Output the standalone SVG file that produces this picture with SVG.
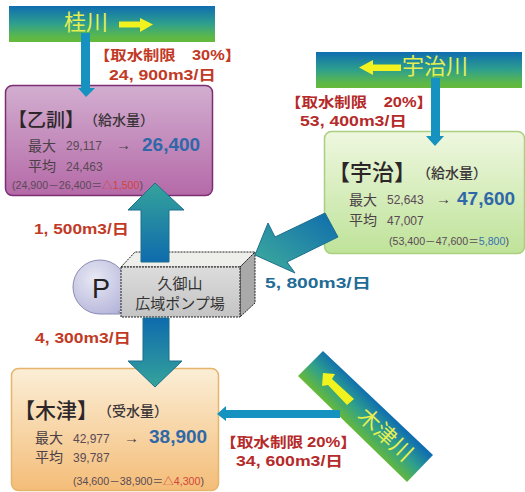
<svg xmlns="http://www.w3.org/2000/svg" width="525" height="492" viewBox="0 0 525 492">
<style>
text{font-family:"Noto Sans CJK JP","Liberation Sans",sans-serif;fill:#3a3438}
.red{font-size:14px;font-weight:700}
.r1{fill:#c23a26}
.r2{fill:#b52a2a}
.flow{font-family:"Liberation Sans","Noto Sans CJK JP",sans-serif}
.riv{fill:#e6ee50;font-size:22px}
.title{fill:#2c2628;font-size:19px;font-weight:500}
.t22{font-size:22px}
.t21{font-size:21px}
.sub{fill:#3a3438;font-size:14px;font-weight:500}
.lab{fill:#4a4046;font-size:14px}
.num{font-family:"Liberation Sans",sans-serif;fill:#5a4a55;font-size:12px}
.ar{font-family:"Liberation Sans",sans-serif;fill:#4a4046;font-size:15px}
.big{font-family:"Liberation Sans",sans-serif;fill:#2f68a8;font-size:19px;font-weight:700}
.calc{font-family:"Liberation Sans","Noto Sans CJK JP",sans-serif;fill:#5a4a55;font-size:10px}
.arr{stroke:#1d6f8c;stroke-width:1}
.pump{fill:#333;font-size:15px;text-anchor:middle}
</style>
<defs>
<linearGradient id="river" x1="0" y1="0" x2="0" y2="1"><stop offset="0" stop-color="#0f6db0"/><stop offset=".5" stop-color="#2fa08c"/><stop offset=".85" stop-color="#5cb84a"/><stop offset="1" stop-color="#66b93a"/></linearGradient>
<linearGradient id="riverd" gradientUnits="userSpaceOnUse" x1="378" y1="403" x2="352" y2="429"><stop offset="0" stop-color="#0f6db0"/><stop offset=".5" stop-color="#2fa08c"/><stop offset="1" stop-color="#66b93a"/></linearGradient>
<linearGradient id="up" x1="0" y1="0" x2="0" y2="1"><stop offset="0" stop-color="#35a39b"/><stop offset="1" stop-color="#0f6bad"/></linearGradient>
<linearGradient id="down" x1="0" y1="0" x2="0" y2="1"><stop offset="0" stop-color="#0f6bad"/><stop offset="1" stop-color="#35a39b"/></linearGradient>
<linearGradient id="diag" x1="1" y1="0" x2="0" y2="1"><stop offset="0" stop-color="#0f6bad"/><stop offset="1" stop-color="#3fae9b"/></linearGradient>
<linearGradient id="purple" x1="0" y1="0" x2="0" y2="1"><stop offset="0" stop-color="#d2aed0"/><stop offset="1" stop-color="#b56aa8"/></linearGradient>
<linearGradient id="green" x1="0" y1="0" x2="0" y2="1"><stop offset="0" stop-color="#eef7df"/><stop offset="1" stop-color="#bfe39a"/></linearGradient>
<linearGradient id="orange" x1="0" y1="0" x2="0" y2="1"><stop offset="0" stop-color="#fbeed6"/><stop offset="1" stop-color="#f4bd78"/></linearGradient>
<linearGradient id="gray" x1="0" y1="0" x2="0" y2="1"><stop offset="0" stop-color="#dcdcdc"/><stop offset="1" stop-color="#c4c4c4"/></linearGradient>
<radialGradient id="pball" cx=".4" cy=".35" r=".75"><stop offset="0" stop-color="#e8e8f4"/><stop offset="1" stop-color="#b4b4da"/></radialGradient>
</defs>
<rect width="525" height="492" fill="#fff"/>

<g id="river-katsura">
<rect x="9" y="6" width="206" height="36" fill="url(#river)"/>
<text class="riv" x="64" y="30">桂川</text>
<path d="M119 21.500H140V18L153 24.500L140 32V27.500H119Z" fill="#f2f21e"/>
</g>
<g id="river-uji">
<rect x="316" y="52" width="206" height="36" fill="url(#river)"/>
<text class="riv" x="402" y="74">宇治川</text>
<path d="M401 64.500H373V60L359 67.500L373 75V71H401Z" fill="#f2f21e"/>
</g>
<g id="river-kizu">
<polygon points="323,351 433,455 407,482 298,376" fill="url(#riverd)"/>
<polygon points="354,399 347,405 328,385 322,386 323,373 335,374 332,379" fill="#f2f21e"/>
<text class="riv" text-anchor="middle" transform="translate(385,435) rotate(43)" x="0" y="7">木津川</text>
</g>

<g id="node-otokuni">
<rect x="5.500" y="85.500" width="207" height="110" rx="7" fill="url(#purple)" stroke="#7b2f72" stroke-width="1.500"/>
<text class="title" x="8" y="127">【乙訓】</text>
<text class="sub" x="84" y="125">（給水量）</text>
<text class="lab" x="28" y="151">最大</text>
<text class="num" x="66" y="150">29,117</text>
<text class="ar" x="116" y="150">→</text>
<text class="big" x="142" y="151">26,400</text>
<text class="lab" x="28" y="171">平均</text>
<text class="num" x="66" y="171">24,463</text>
<text class="calc" x="12" y="189" textLength="131" lengthAdjust="spacingAndGlyphs">(24,900－26,400＝<tspan fill="#d2443a">△1,500</tspan>)</text>
</g>
<g id="node-uji">
<rect x="324.500" y="131.500" width="200" height="122" rx="7" fill="url(#green)" stroke="#a9cf7f" stroke-width="1.500"/>
<text class="title t22" x="328" y="180">【宇治】</text>
<text class="sub" x="417" y="178">（給水量）</text>
<text class="lab" x="349" y="205">最大</text>
<text class="num" x="387" y="204">52,643</text>
<text class="ar" x="436" y="204">→</text>
<text class="big" x="457" y="205">47,600</text>
<text class="lab" x="349" y="225">平均</text>
<text class="num" x="387" y="225">47,007</text>
<text class="calc" x="389" y="245" textLength="120" lengthAdjust="spacingAndGlyphs">(53,400－47,600＝<tspan fill="#3a70b0">5,800</tspan>)</text>
</g>
<g id="node-kizu">
<rect x="11.500" y="368.500" width="207" height="122" rx="7" fill="url(#orange)" stroke="#e6b56c" stroke-width="1.500"/>
<text class="title t21" x="14" y="418">【木津】</text>
<text class="sub" x="98" y="416">（受水量）</text>
<text class="lab" x="35" y="443">最大</text>
<text class="num" x="73" y="443">42,977</text>
<text class="ar" x="124" y="443">→</text>
<text class="big" x="149" y="443">38,900</text>
<text class="lab" x="35" y="462">平均</text>
<text class="num" x="73" y="462">39,787</text>
<text class="calc" x="73" y="485" textLength="131" lengthAdjust="spacingAndGlyphs">(34,600－38,900＝<tspan fill="#d2443a">△4,300</tspan>)</text>
</g>

<g id="node-pump">
<path d="M100 260A27 27 0 0 1 127 287V307L118 312L127 314H100A27 27 0 0 1 100 260Z" fill="url(#pball)" stroke="#8a8ab5"/>
<text x="101" y="298" style="font-family:'Liberation Sans',sans-serif;fill:#222;font-size:27px;text-anchor:middle">P</text>
<polygon points="121,267 135,252 255,252 240,267" fill="#eeeeea" stroke="#222" stroke-dasharray="2 1"/>
<polygon points="240,267 255,252 255,303 240,317" fill="#a9a9a9" stroke="#222" stroke-dasharray="2 1"/>
<rect x="121" y="267" width="119" height="50" fill="url(#gray)" stroke="#222" stroke-dasharray="2 1"/>
<text class="pump" x="180" y="289">久御山</text>
<text class="pump" x="180" y="309">広域ポンプ場</text>
</g>

<g id="connectors">
<path d="M81 33H90V88H95L86 97L78 88H81Z" fill="#1592bf"/>
<path d="M431 78H440V136H444L435 146L426 136H431Z" fill="#1592bf"/>
<path d="M340 410V418H226V421L217 414L226 406V410Z" fill="#1592bf"/>
<path d="M141 262V210H128L155 183L184 210H169V262Z" fill="url(#up)" class="arr"/>
<path d="M143 318H169V361H182L155 387L128 361H143Z" fill="url(#down)" class="arr"/>
<path d="M325 213L338 237L287 262L295 273L255 255L268 223L275 237Z" fill="url(#diag)" class="arr"/>
</g>

<g id="labels">
<text class="red r1" x="94" y="60" textLength="147" lengthAdjust="spacingAndGlyphs">【取水制限　<tspan class="flow">30%</tspan>】</text>
<text class="red flow r1" x="109" y="80" textLength="107" lengthAdjust="spacingAndGlyphs">24, 900m3/日</text>
<text class="red r2" x="285" y="107" textLength="148" lengthAdjust="spacingAndGlyphs">【取水制限　<tspan class="flow">20%</tspan>】</text>
<text class="red flow r2" x="300" y="126" textLength="107" lengthAdjust="spacingAndGlyphs">53, 400m3/日</text>
<text class="red flow r1" x="34" y="234" textLength="95" lengthAdjust="spacingAndGlyphs">1, 500m3/日</text>
<text class="red flow r1" x="35" y="343" textLength="96" lengthAdjust="spacingAndGlyphs">4, 300m3/日</text>
<text class="red flow" x="265" y="288" textLength="106" lengthAdjust="spacingAndGlyphs" style="fill:#1f6c96">5, 800m3/日</text>
<text class="red r2" x="220" y="447" textLength="137" lengthAdjust="spacingAndGlyphs">【取水制限 <tspan class="flow">20%</tspan>】</text>
<text class="red flow r2" x="236" y="466" textLength="107" lengthAdjust="spacingAndGlyphs">34, 600m3/日</text>
</g>
</svg>
